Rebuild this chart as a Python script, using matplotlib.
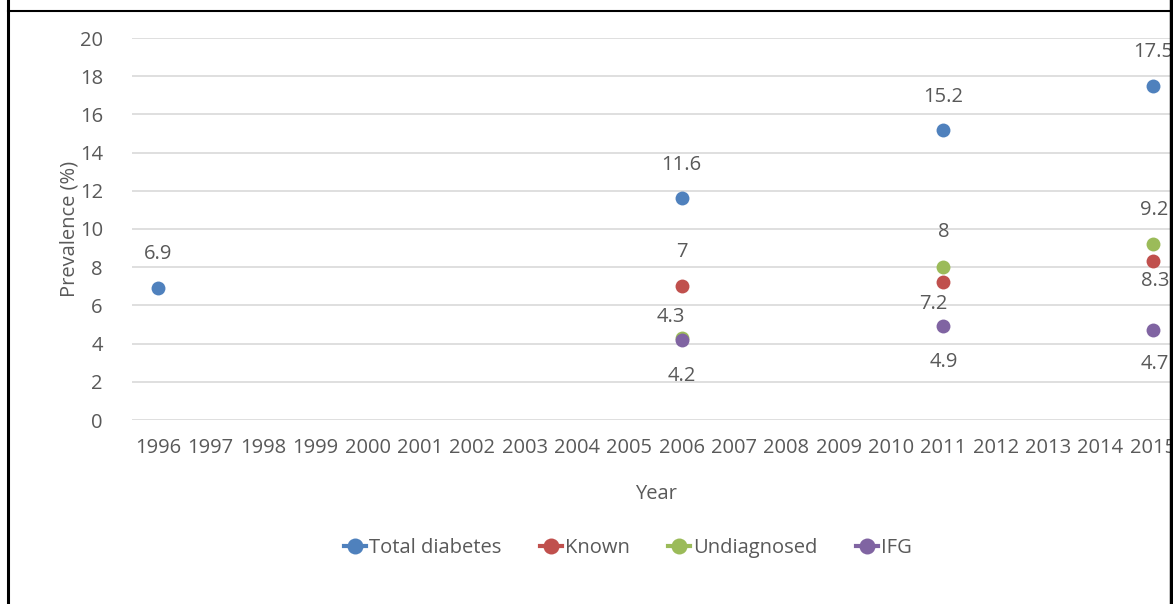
import numpy as np
import matplotlib.pyplot as plt
from matplotlib.lines import Line2D

plt.rcParams['font.family'] = ['Open Sans', 'DejaVu Sans']

# --- Survey years (category axis)
years = [str(y) for y in range(1996, 2016)]

# --- Prevalence (%) by series, keyed by survey year
total_years = ['1996', '2006', '2011', '2015']
total_vals = [6.9, 11.6, 15.2, 17.5]

known_years = ['2006', '2011', '2015']
known_vals = [7, 7.2, 8.3]

undiag_years = ['2006', '2011', '2015']
undiag_vals = [4.3, 8, 9.2]

ifg_years = ['2006', '2011', '2015']
ifg_vals = [4.2, 4.9, 4.7]

# --- Label offsets (pixels) for each point's data label
total_off = [(0, 34), (0, 33), (0, 33), (0, 34)]
known_off = [(0, 34), (-10, -22), (2, -20)]
undiag_off = [(-11, 21), (0, 35), (1, 34)]
ifg_off = [(0, -36), (0, -36), (2, -34)]

colors = ['#4F81BD', '#C0504D', '#9BBB59', '#8064A2']
text_col = '#595959'
grid_col = '#D9D9D9'
fs = 14.5

W, H = 1173, 604
fig = plt.figure(figsize=(W / 100, H / 100), dpi=100)

# plot area in pixel terms (runs slightly past the right edge)
left, right, top, bottom = 132, 1179, 38, 420
ax = fig.add_axes([left / W, 1 - bottom / H, (right - left) / W, (bottom - top) / H])

xpos = {y: i for i, y in enumerate(years)}

series = [
    ('Total diabetes', total_years, total_vals, total_off),
    ('Known', known_years, known_vals, known_off),
    ('Undiagnosed', undiag_years, undiag_vals, undiag_off),
    ('IFG', ifg_years, ifg_vals, ifg_off),
]

px = 0.72  # points per pixel at 100 dpi
for (name, yrs, vals, offs), c in zip(series, colors):
    xs = [xpos[y] for y in yrs]
    ax.plot(xs, vals, 'o', color=c, markersize=10, label=name, zorder=3,
            markeredgewidth=0)
    for x, v, (dx, dy) in zip(xs, vals, offs):
        ax.annotate(f'{v:g}', (x, v), xytext=(dx * px, dy * px),
                    textcoords='offset points', ha='center', va='center',
                    fontsize=fs, color=text_col, zorder=4)

ax.set_xlim(-0.5, len(years) - 0.5)
ax.set_ylim(0, 20)
ax.set_xticks(range(len(years)))
ax.set_xticklabels(years)
ax.set_yticks(np.arange(0, 21, 2))
ax.tick_params(length=0, labelsize=fs, labelcolor=text_col)
ax.tick_params(axis='y', pad=21)
ax.tick_params(axis='x', pad=13)

ax.grid(axis='y', color=grid_col, linewidth=1.2)
ax.set_axisbelow(True)
for s in ax.spines.values():
    s.set_visible(False)

ax.set_xlabel('Year', fontsize=fs, color=text_col, labelpad=19)
ax.set_ylabel('Prevalence (%)', fontsize=fs, color=text_col, labelpad=0)

# legend with line+marker handles
handles = [Line2D([0], [0], color=c, marker='o', markersize=11.5, linewidth=3,
                  markeredgewidth=0) for c in colors]
leg = fig.legend(handles, [s[0] for s in series], loc='center',
                 bbox_to_anchor=(628 / W, 1 - 548 / H), ncol=4, frameon=False,
                 fontsize=fs, handlelength=1.1, handletextpad=0.15,
                 columnspacing=1.9)
for t in leg.get_texts():
    t.set_color(text_col)

# table cell border around the figure
fig.add_artist(Line2D([7.5 / W, 7.5 / W], [0, 1], color='black', linewidth=2.2,
                      transform=fig.transFigure))
fig.add_artist(Line2D([1171 / W, 1171 / W], [0, 1], color='black', linewidth=2.5,
                      transform=fig.transFigure))
fig.add_artist(Line2D([7.5 / W, 1171 / W], [1 - 10.5 / H, 1 - 10.5 / H],
                      color='black', linewidth=1.5, transform=fig.transFigure))

fig.savefig('out.png', dpi=100)
